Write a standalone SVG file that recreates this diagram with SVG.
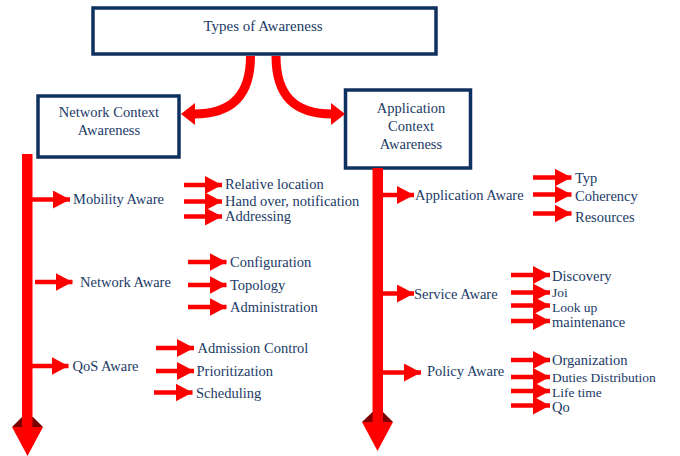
<svg xmlns="http://www.w3.org/2000/svg" width="680" height="456" viewBox="0 0 680 456">
<style>
.box{fill:#fff;stroke:#0f3160;stroke-width:3.5}
text{font-family:"Liberation Serif","DejaVu Serif","Times New Roman",serif;font-size:14.5px;fill:#1b3a66}
.c{text-anchor:middle}
.s{font-size:13.5px}
.ar{stroke:#ff0000;stroke-width:4.5;fill:none}
.cv{stroke:#ff0000;stroke-width:9;fill:none}
.red{fill:#ff0000}
.dk{fill:#7a0000}
</style>
<defs>
<marker id="ah" markerUnits="userSpaceOnUse" markerWidth="18" markerHeight="18" refX="17" refY="9" orient="auto">
<path d="M0,0 L17,9 L0,18 Z" fill="#ff0000"/>
</marker>
</defs>
<g id="types">
<rect class="box" x="93" y="8" width="343" height="46"/>
<text class="c" x="263" y="31" style="font-size:15px">Types of Awareness</text>
</g>
<g id="network-context">
<rect class="box" x="38" y="96" width="141" height="61"/>
<text class="c" x="109" y="117">Network Context</text>
<text class="c" x="109" y="135">Awareness</text>
</g>
<g id="application-context">
<rect class="box" x="345.5" y="90" width="125" height="78"/>
<text class="c" x="411" y="113">Application</text>
<text class="c" x="411" y="131">Context</text>
<text class="c" x="411" y="149">Awareness</text>
</g>
<g id="connectors">
<path class="cv" d="M250.5,56 C250.5,95 232,114 194,114"/>
<polygon class="red" points="195,103 181,114 195,125"/>
<path class="cv" d="M276,56 C276,95 294,114 332,114"/>
<polygon class="red" points="331,103 345,114 331,125"/>
<polygon class="dk" points="22,417 12,427 43,427 33,417"/>
<rect class="red" x="22" y="154" width="10.5" height="275"/>
<polygon class="red" points="12,427 43,427 27.5,456"/>
<polygon class="dk" points="372.5,412 362,422 393,422 383,412"/>
<rect class="red" x="372.5" y="168" width="10.5" height="256"/>
<polygon class="red" points="362,422 393,422 377.5,451"/>
<line class="ar" x1="32" y1="199.5" x2="70" y2="199.5" marker-end="url(#ah)"/>
<line class="ar" x1="35" y1="282" x2="72.5" y2="282" marker-end="url(#ah)"/>
<line class="ar" x1="32" y1="366" x2="68.5" y2="366" marker-end="url(#ah)"/>
<line class="ar" x1="184" y1="185" x2="222" y2="185" marker-end="url(#ah)"/>
<line class="ar" x1="184" y1="201.5" x2="222" y2="201.5" marker-end="url(#ah)"/>
<line class="ar" x1="184" y1="216.5" x2="222" y2="216.5" marker-end="url(#ah)"/>
<line class="ar" x1="188" y1="262" x2="226.5" y2="262" marker-end="url(#ah)"/>
<line class="ar" x1="188" y1="285" x2="226.5" y2="285" marker-end="url(#ah)"/>
<line class="ar" x1="188" y1="307" x2="226.5" y2="307" marker-end="url(#ah)"/>
<line class="ar" x1="156" y1="348" x2="194" y2="348" marker-end="url(#ah)"/>
<line class="ar" x1="156" y1="371" x2="194" y2="371" marker-end="url(#ah)"/>
<line class="ar" x1="154" y1="392.5" x2="192.5" y2="392.5" marker-end="url(#ah)"/>
<line class="ar" x1="383" y1="195" x2="414" y2="195" marker-end="url(#ah)"/>
<line class="ar" x1="383" y1="293.5" x2="414" y2="293.5" marker-end="url(#ah)"/>
<line class="ar" x1="383" y1="372.5" x2="421" y2="372.5" marker-end="url(#ah)"/>
<line class="ar" x1="533" y1="177.5" x2="571.5" y2="177.5" marker-end="url(#ah)"/>
<line class="ar" x1="533" y1="194.5" x2="571.5" y2="194.5" marker-end="url(#ah)"/>
<line class="ar" x1="533" y1="213.5" x2="571.5" y2="213.5" marker-end="url(#ah)"/>
<line class="ar" x1="511" y1="275" x2="550" y2="275" marker-end="url(#ah)"/>
<line class="ar" x1="511" y1="292.5" x2="550" y2="292.5" marker-end="url(#ah)"/>
<line class="ar" x1="511" y1="305.5" x2="550" y2="305.5" marker-end="url(#ah)"/>
<line class="ar" x1="511" y1="321" x2="550" y2="321" marker-end="url(#ah)"/>
<line class="ar" x1="511" y1="360" x2="550" y2="360" marker-end="url(#ah)"/>
<line class="ar" x1="511" y1="377" x2="550" y2="377" marker-end="url(#ah)"/>
<line class="ar" x1="511" y1="391" x2="550" y2="391" marker-end="url(#ah)"/>
<line class="ar" x1="511" y1="405.5" x2="550" y2="405.5" marker-end="url(#ah)"/>
</g>
<g id="mobility-aware"><text x="73" y="203.5">Mobility Aware</text></g>
<g id="relative-location"><text x="225" y="189">Relative location</text></g>
<g id="hand-over"><text x="225" y="206">Hand over, notification</text></g>
<g id="addressing"><text x="225" y="221">Addressing</text></g>
<g id="network-aware"><text x="80" y="287">Network Aware</text></g>
<g id="configuration"><text x="230" y="267">Configuration</text></g>
<g id="topology"><text x="230" y="290">Topology</text></g>
<g id="administration"><text x="230" y="311.5">Administration</text></g>
<g id="qos-aware"><text x="72.5" y="371">QoS Aware</text></g>
<g id="admission-control"><text x="197.5" y="353">Admission Control</text></g>
<g id="prioritization"><text x="196.5" y="376">Prioritization</text></g>
<g id="scheduling"><text x="196" y="397.5">Scheduling</text></g>
<g id="application-aware"><text x="415" y="200">Application Aware</text></g>
<g id="typ"><text x="575" y="183">Typ</text></g>
<g id="coherency"><text x="575" y="200.5">Coherency</text></g>
<g id="resources"><text x="575" y="221.5">Resources</text></g>
<g id="service-aware"><text x="414" y="298.5">Service Aware</text></g>
<g id="discovery"><text x="552" y="280.5">Discovery</text></g>
<g id="joi"><text class="s" x="552" y="297">Joi</text></g>
<g id="look-up"><text class="s" x="552" y="311.5">Look up</text></g>
<g id="maintenance"><text x="552" y="326.5">maintenance</text></g>
<g id="policy-aware"><text x="427" y="376">Policy Aware</text></g>
<g id="organization"><text x="552" y="365">Organization</text></g>
<g id="duties"><text class="s" x="552" y="382">Duties Distribution</text></g>
<g id="life-time"><text class="s" x="552" y="396.5">Life time</text></g>
<g id="qo"><text x="552" y="411.5">Qo</text></g>
</svg>
